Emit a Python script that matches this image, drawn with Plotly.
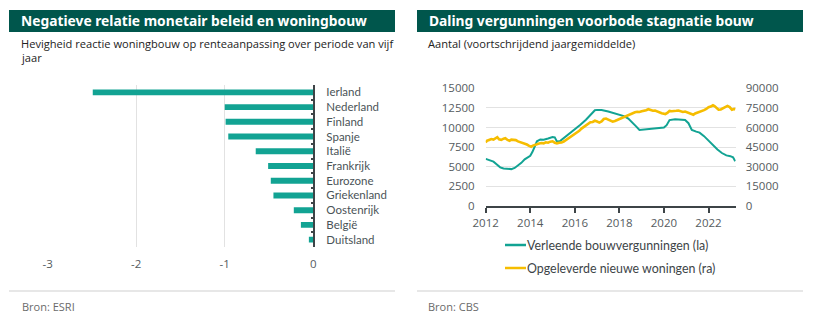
import plotly.graph_objects as go

# ---------------- data ----------------
countries = ["Ierland", "Nederland", "Finland", "Spanje", "Italië", "Frankrijk",
             "Eurozone", "Griekenland", "Oostenrijk", "België", "Duitsland"]
reaction = [-2.49, -1.0, -0.99, -0.96, -0.65, -0.51, -0.48, -0.45, -0.22, -0.14, -0.05]

permit_years = [2012.0, 2012.2, 2012.35, 2012.5, 2012.65, 2012.8, 2012.95, 2013.15, 2013.3, 2013.45,
                2013.6, 2013.75, 2013.9, 2014.0, 2014.1, 2014.2, 2014.3, 2014.45, 2014.6, 2014.8,
                2015.0, 2015.1, 2015.2, 2015.35, 2015.55, 2015.75, 2016.0, 2016.25, 2016.5, 2016.7,
                2016.9, 2017.0, 2017.2, 2017.5, 2017.8, 2018.0, 2018.2, 2018.4, 2018.6, 2018.75,
                2018.9, 2019.1, 2019.3, 2019.6, 2019.85, 2020.0, 2020.12, 2020.25, 2020.5, 2020.75,
                2020.95, 2021.1, 2021.25, 2021.45, 2021.6, 2021.8, 2022.0, 2022.2, 2022.4, 2022.6,
                2022.8, 2022.98, 2023.1, 2023.2]
permits = [6000, 5850, 5650, 5300, 4930, 4780, 4750, 4700, 4850, 5150,
           5500, 5950, 6200, 6400, 6900, 7600, 8250, 8480, 8450, 8600,
           8800, 8750, 8200, 8300, 8750, 9200, 9750, 10350, 11000, 11600,
           12200, 12250, 12230, 12050, 11800, 11700, 11450, 11150, 10650, 10150,
           9700, 9750, 9820, 9850, 9900, 10000, 10300, 10950, 11050, 11000,
           10950, 10550, 9700, 9480, 9350, 8900, 8300, 7750, 7200, 6750,
           6450, 6350, 6200, 5700]

homes_years = [2012.0, 2012.05, 2012.15, 2012.25, 2012.35, 2012.45, 2012.52, 2012.6, 2012.7, 2012.8,
               2012.88, 2012.98, 2013.07, 2013.15, 2013.25, 2013.35, 2013.45, 2013.55, 2013.65, 2013.75,
               2013.85, 2013.95, 2014.04, 2014.12, 2014.2, 2014.3, 2014.4, 2014.5, 2014.6, 2014.7,
               2014.8, 2014.9, 2015.0, 2015.1, 2015.2, 2015.3, 2015.4, 2015.5, 2015.6, 2015.7,
               2015.8, 2015.9, 2016.0, 2016.1, 2016.2, 2016.3, 2016.4, 2016.5, 2016.6, 2016.7,
               2016.8, 2016.9, 2017.0, 2017.1, 2017.2, 2017.3, 2017.4, 2017.5, 2017.6, 2017.7,
               2017.8, 2017.9, 2018.0, 2018.1, 2018.2, 2018.3, 2018.4, 2018.5, 2018.6, 2018.7,
               2018.8, 2018.9, 2019.0, 2019.1, 2019.2, 2019.3, 2019.4, 2019.5, 2019.6, 2019.7,
               2019.8, 2019.9, 2020.0, 2020.06, 2020.15, 2020.25, 2020.35, 2020.45, 2020.55, 2020.65,
               2020.75, 2020.85, 2020.95, 2021.05, 2021.15, 2021.25, 2021.32, 2021.4, 2021.5, 2021.6,
               2021.7, 2021.8, 2021.9, 2022.0, 2022.1, 2022.2, 2022.27, 2022.35, 2022.45, 2022.55,
               2022.65, 2022.75, 2022.85, 2022.95, 2023.05, 2023.15, 2023.2]
homes = [48500, 49800, 50500, 51200, 50800, 52000, 52600, 51000, 50600, 51500,
         51800, 50500, 49900, 50700, 50300, 50400, 49400, 48900, 48200, 47800,
         47000, 46000, 45300, 46200, 46800, 47200, 47800, 48200, 47900, 48700,
         48400, 49200, 49500, 48400, 47900, 48300, 48500, 49300, 50400, 51600,
         52800, 54000, 55200, 56300, 57500, 59200, 60300, 61700, 62800, 64000,
         64300, 65200, 64600, 63800, 64700, 66500, 66900, 66100, 65000, 64500,
         65000, 65800, 66300, 67100, 67800, 68700, 69500, 70300, 71000, 71700,
         72100, 71900, 72400, 72600, 73200, 74000, 73500, 72800, 73000, 72200,
         71600, 71000, 70500, 70200, 71200, 72700, 72500, 72900, 72800, 73000,
         72400, 71900, 72200, 71600, 71000, 70300, 69800, 70800, 71300, 71800,
         72600, 73300, 74200, 75500, 76000, 77000, 76400, 75000, 73600, 73800,
         74600, 75800, 76500, 75600, 73600, 74200, 73800]

bar_ticks = [-3, -2, -1, 0]
left_ticks = [0, 2500, 5000, 7500, 10000, 12500, 15000]
right_ticks = [0, 15000, 30000, 45000, 60000, 75000, 90000]
year_ticks = [2012, 2014, 2016, 2018, 2020, 2022]

# ---------------- styling ----------------
W, H = 820, 328
def px(x):
    return x / W
def py(y):
    return 1 - y / H

TEAL = "#12a393"
YELLOW = "#f6bd00"
DARK = "#00564c"
AX = "#3d4447"
GRID = "#e2e2e2"
TICKFONT = dict(family="Open Sans", size=11.5, color="#555b5e")
LABFONT = dict(family="Lato", size=11.5, color="#4a5357")

fig = go.Figure()

fig.add_trace(go.Bar(x=reaction, y=countries, orientation="h", marker_color=TEAL,
                     marker_line_width=0, xaxis="x", yaxis="y", showlegend=False))

fig.add_trace(go.Scatter(x=permit_years, y=permits, mode="lines", line=dict(color=TEAL, width=2),
                         xaxis="x2", yaxis="y2", showlegend=False))
fig.add_trace(go.Scatter(x=homes_years, y=homes, mode="lines", line=dict(color=YELLOW, width=2.6),
                         xaxis="x2", yaxis="y3", showlegend=False))

fig.update_layout(
    template="none",
    width=W, height=H, margin=dict(l=0, r=0, t=0, b=0, pad=0, autoexpand=False),
    paper_bgcolor="white", plot_bgcolor="white",
    showlegend=False,
    bargap=0.6,
    xaxis=dict(domain=[px(46.7), px(313.3)], range=[-3.01, 0], tickvals=bar_ticks,
               ticktext=[str(v) for v in bar_ticks], showgrid=True, gridcolor=GRID, gridwidth=1,
               zeroline=False, showline=False, ticks="", tickfont=TICKFONT, anchor="y",
               ticklabelstandoff=8, automargin=False),
    yaxis=dict(domain=[py(247), py(85)], side="right", autorange="reversed", anchor="x",
               showline=True, linecolor=AX, linewidth=1.5, ticks="inside", tickson="boundaries",
               ticklen=3, tickcolor=AX, tickwidth=1.5, tickfont=LABFONT, ticklabelstandoff=9,
               showgrid=False, zeroline=False, automargin=False),
    xaxis2=dict(domain=[px(485.7), px(735.7)], range=[2012, 2023.22], tickvals=year_ticks,
                ticktext=[str(v) for v in year_ticks], showline=True, linecolor=AX, linewidth=1.5,
                ticks="outside", ticklen=5, tickcolor=AX, tickwidth=1.5, showgrid=False,
                zeroline=False, tickfont=TICKFONT, anchor="y2", automargin=False),
    yaxis2=dict(domain=[py(206), py(88.3)], range=[0, 15000], tickvals=left_ticks,
                tickformat="d", showgrid=True, gridcolor=GRID, zeroline=False, showline=False,
                ticks="", tickfont=TICKFONT, anchor="x2", ticklabelstandoff=10, automargin=False),
    yaxis3=dict(domain=[py(206), py(88.3)], range=[0, 90000], tickvals=right_ticks,
                tickformat="d", overlaying="y2", side="right", showgrid=False, zeroline=False,
                showline=False, ticks="", tickfont=TICKFONT, anchor="x2", ticklabelstandoff=9,
                automargin=False),
)

shapes = [
    dict(type="rect", xref="paper", yref="paper", x0=px(9), x1=px(395), y0=py(32), y1=py(10),
         fillcolor=DARK, line_width=0, layer="below"),
    dict(type="rect", xref="paper", yref="paper", x0=px(417), x1=px(803), y0=py(32), y1=py(10),
         fillcolor=DARK, line_width=0, layer="below"),
    dict(type="line", xref="paper", yref="paper", x0=px(9), x1=px(395), y0=py(291), y1=py(291),
         line=dict(color="#cfcfcf", width=1)),
    dict(type="line", xref="paper", yref="paper", x0=px(417), x1=px(803), y0=py(291), y1=py(291),
         line=dict(color="#cfcfcf", width=1)),
    dict(type="line", xref="paper", yref="paper", x0=px(505), x1=px(526), y0=py(245), y1=py(245),
         line=dict(color=TEAL, width=2.5)),
    dict(type="line", xref="paper", yref="paper", x0=px(505), x1=px(526), y0=py(268), y1=py(268),
         line=dict(color=YELLOW, width=2.5)),
]

TITLEFONT = dict(family="Noto Sans", size=13.8, color="white", weight="bold")
SUBFONT = dict(family="Open Sans", size=11.1, color="#222222")
SRCFONT = dict(family="Open Sans", size=11, color="#6b6b6b")
LEGFONT = dict(family="Lato", size=12.4, color="#3d4447")

def ann(x, y, text, font):
    return dict(xref="paper", yref="paper", x=px(x), y=py(y), text=text, showarrow=False,
                xanchor="left", yanchor="middle", align="left", font=font)

annotations = [
    ann(19, 21, "Negatieve relatie monetair beleid en woningbouw", TITLEFONT),
    ann(427, 21, "Daling vergunningen voorbode stagnatie bouw", TITLEFONT),
    ann(19, 43, "Hevigheid reactie woningbouw op renteaanpassing over periode van vijf", SUBFONT),
    ann(19, 58, "jaar", SUBFONT),
    ann(426, 43, "Aantal (voortschrijdend jaargemiddelde)", SUBFONT),
    ann(19.5, 306, "Bron: ESRI", SRCFONT),
    ann(426, 306, "Bron: CBS", SRCFONT),
    ann(525, 245, "Verleende bouwvergunningen (la)", LEGFONT),
    ann(525, 268, "Opgeleverde nieuwe woningen (ra)", LEGFONT),
]

fig.update_layout(shapes=shapes, annotations=annotations)

fig.write_html("out.html")
